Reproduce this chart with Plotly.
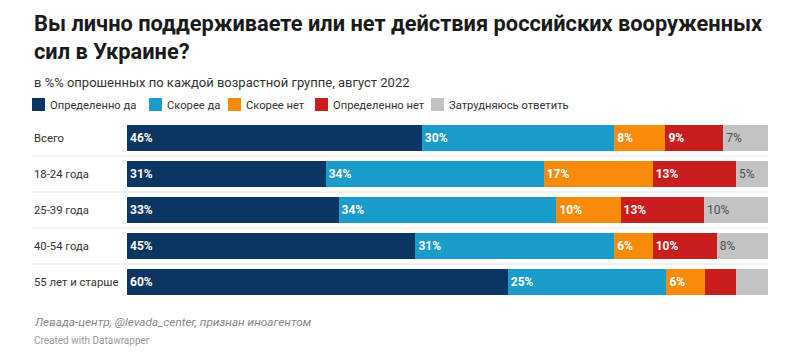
import plotly.graph_objects as go

categories = ["Всего", "18-24 года", "25-39 года", "40-54 года", "55 лет и старше"]
series_names = ["Определенно да", "Скорее да", "Скорее нет", "Определенно нет", "Затрудняюсь ответить"]
definitely_yes = [46, 31, 33, 45, 60]
rather_yes = [30, 34, 34, 31, 25]
rather_no = [8, 17, 10, 6, 6]
definitely_no = [9, 13, 13, 10, 5]
hard_to_say = [7, 5, 10, 8, 5]
show_label = [
    [True] * 5,
    [True] * 5,
    [True] * 5,
    [True, True, True, True, False],
    [True, True, True, True, False],
]

colors = ["#0a3663", "#1b9dcc", "#f98b0b", "#c81e1e", "#c3c3c3"]
text_colors = ["#ffffff", "#ffffff", "#ffffff", "#ffffff", "#505050"]
text_weights = ["bold", "bold", "bold", "bold", "normal"]

W, H = 793, 360
L, R, T, B = 127, 25, 120, 60
PW, PH = W - L - R, H - T - B


def px(x):
    return (x - L) / PW


def py(y):
    return (H - B - y) / PH


series = [definitely_yes, rather_yes, rather_no, definitely_no, hard_to_say]

fig = go.Figure()
for i, (name, vals) in enumerate(zip(series_names, series)):
    texts = [f"{v}%" if show_label[i][j] else "" for j, v in enumerate(vals)]
    fig.add_trace(go.Bar(
        y=categories, x=vals, name=name, orientation="h",
        marker=dict(color=colors[i], line=dict(width=0)),
        text=texts, textposition="inside", insidetextanchor="start",
        textangle=0, constraintext="none",
        insidetextfont=dict(family="Roboto", size=12, color=text_colors[i], weight=text_weights[i]),
        hoverinfo="skip", showlegend=False,
    ))

fig.update_layout(
    width=W, height=H, barmode="stack", barnorm="percent", bargap=0.28,
    margin=dict(l=L, r=R, t=T, b=B),
    paper_bgcolor="white", plot_bgcolor="white",
    font=dict(family="Roboto", color="#333333"),
    xaxis=dict(visible=False, range=[0, 100], fixedrange=True),
    yaxis=dict(autorange="reversed", showticklabels=False, showgrid=False,
               zeroline=False, showline=False, ticks="", fixedrange=True),
)

annotations = []
shapes = []

# title
annotations.append(dict(
    x=px(32), xref="paper", y=py(37), yref="paper",
    text="Вы лично поддерживаете или нет действия российских вооруженных<br>сил в Украине?",
    showarrow=False, xanchor="left", yanchor="middle", align="left",
    font=dict(family="Roboto", size=21.8, color="#1a1a1a", weight="bold"),
))

# category labels (left aligned)
for c in categories:
    annotations.append(dict(
        x=px(32), xref="paper", y=c, yref="y", text=c, showarrow=False,
        xanchor="left", yanchor="middle",
        font=dict(family="Roboto", size=11.3, color="#333333"),
    ))

# separators between rows
for k in range(len(categories) - 1):
    shapes.append(dict(
        type="line", xref="paper", yref="y", x0=px(32), x1=px(768),
        y0=k + 0.5, y1=k + 0.5, line=dict(color="#e6e6e6", width=1), layer="below",
    ))

# subtitle
annotations.append(dict(
    x=px(32), xref="paper", y=py(82), yref="paper",
    text="в %% опрошенных по каждой возрастной группе, август 2022",
    showarrow=False, xanchor="left", yanchor="middle",
    font=dict(family="Roboto", size=13, color="#333333"),
))

# legend
legend_x = [32, 149, 228, 315, 431]
for i, name in enumerate(series_names):
    x0 = legend_x[i]
    shapes.append(dict(
        type="rect", xref="paper", yref="paper",
        x0=px(x0), x1=px(x0 + 13), y0=py(111), y1=py(98),
        fillcolor=colors[i], line=dict(width=0),
    ))
    annotations.append(dict(
        x=px(x0 + 16), xref="paper", y=py(105), yref="paper", text=name,
        showarrow=False, xanchor="left", yanchor="middle",
        font=dict(family="Roboto", size=11.2, color="#333333"),
    ))

# footer
annotations.append(dict(
    x=px(32), xref="paper", y=py(322), yref="paper",
    text="<i>Левада-центр, @levada_center, признан иноагентом</i>",
    showarrow=False, xanchor="left", yanchor="middle",
    font=dict(family="Roboto", size=11.8, color="#888888"),
))
annotations.append(dict(
    x=px(32), xref="paper", y=py(340), yref="paper",
    text="Created with Datawrapper",
    showarrow=False, xanchor="left", yanchor="middle",
    font=dict(family="Roboto", size=10, color="#999999"),
))

fig.update_layout(annotations=annotations, shapes=shapes)
fig.write_html(
    "out.html",
    config={"displayModeBar": False, "staticPlot": True},
    post_script="document.body.style.margin='0';document.body.style.overflow='hidden';",
)
